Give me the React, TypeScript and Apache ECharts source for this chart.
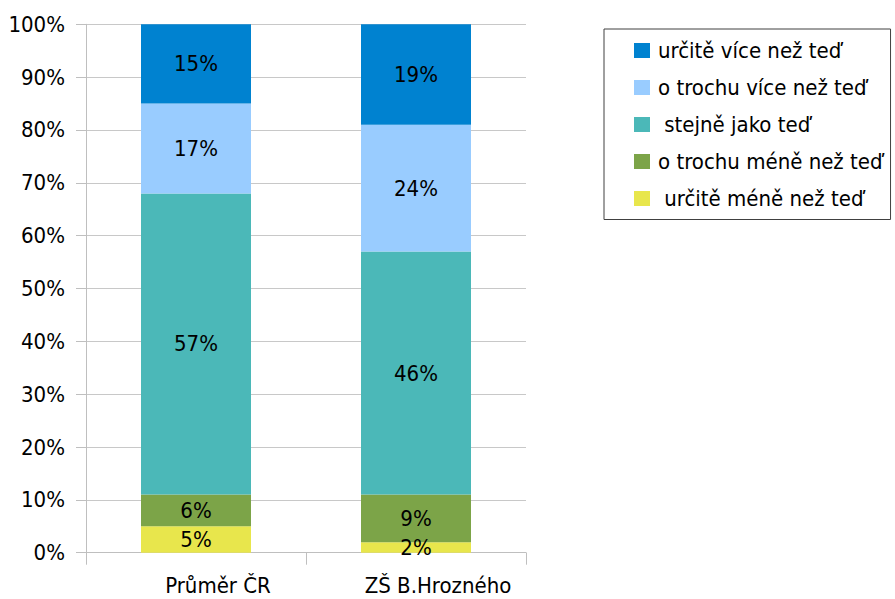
import React, { useEffect, useRef } from "react";
import * as echarts from "echarts";

const categories = ["Průměr ČR", "ZŠ B.Hrozného"];
const seriesNames = [
  " určitě méně než teď",
  "o trochu méně než teď",
  " stejně jako teď",
  "o trochu více než teď",
  "určitě více než teď",
];
const seriesColors = ["#e8e64c", "#7ca448", "#4bb8b8", "#99ccff", "#0082d0"];
const urciteMene = [5, 2];
const trochuMene = [6, 9];
const stejne = [57, 46];
const trochuVice = [17, 24];
const urciteVice = [15, 19];
const seriesValues = [urciteMene, trochuMene, stejne, trochuVice, urciteVice];

const FONT = "'DejaVu Sans Condensed', 'DejaVu Sans', sans-serif";
const FS = 22;

export default function App() {
  const ref = useRef<HTMLDivElement>(null);
  useEffect(() => {
    if (!ref.current) return;
    const chart = echarts.init(ref.current, undefined, { renderer: "svg" });
    chart.setOption({
      animation: false,
      backgroundColor: "#ffffff",
      textStyle: { fontFamily: FONT },
      grid: { left: 86, right: 369, top: 24.3, bottom: 46.3, containLabel: false },
      legend: {
        orient: "vertical",
        left: 604,
        top: 29,
        data: seriesNames.slice().reverse(),
        itemWidth: 16,
        itemHeight: 15,
        itemGap: 13,
        padding: [9.5, 8, 9, 30],
        borderColor: "#404040",
        borderWidth: 1,
        icon: "rect",
        textStyle: {
          fontFamily: FONT,
          fontSize: FS,
          lineHeight: 24,
          color: "#000",
          padding: [0, 0, 0, 3],
        },
      },
      xAxis: {
        type: "category",
        data: categories,
        axisLine: { lineStyle: { color: "#bfbfbf", width: 1 } },
        axisTick: { show: true, length: 12, lineStyle: { color: "#bfbfbf" } },
        axisLabel: {
          fontFamily: FONT,
          fontSize: FS,
          lineHeight: 24,
          color: "#000",
          margin: 21,
          padding: [0, 0, 0, 44],
        },
      },
      yAxis: {
        type: "value",
        min: 0,
        max: 100,
        interval: 10,
        axisLine: { show: true, lineStyle: { color: "#bfbfbf", width: 1 } },
        axisTick: { show: true, length: 10, lineStyle: { color: "#bfbfbf" } },
        splitLine: { show: true, lineStyle: { color: "#c8c8c8", width: 1 } },
        axisLabel: {
          fontFamily: FONT,
          fontSize: FS,
          color: "#000",
          margin: 21,
          formatter: "{value}%",
        },
      },
      series: seriesNames.map((name, i) => ({
        name,
        type: "bar",
        stack: "total",
        barWidth: "50%",
        data: seriesValues[i],
        itemStyle: { color: seriesColors[i] },
        label: {
          show: true,
          position: "inside",
          formatter: "{c}%",
          fontFamily: FONT,
          fontSize: FS,
          color: "#000",
        },
      })),
    });
    return () => chart.dispose();
  }, []);
  return (
    <div
      ref={ref}
      style={{ position: "fixed", left: 0, top: 0, width: 895, height: 599 }}
    />
  );
}
